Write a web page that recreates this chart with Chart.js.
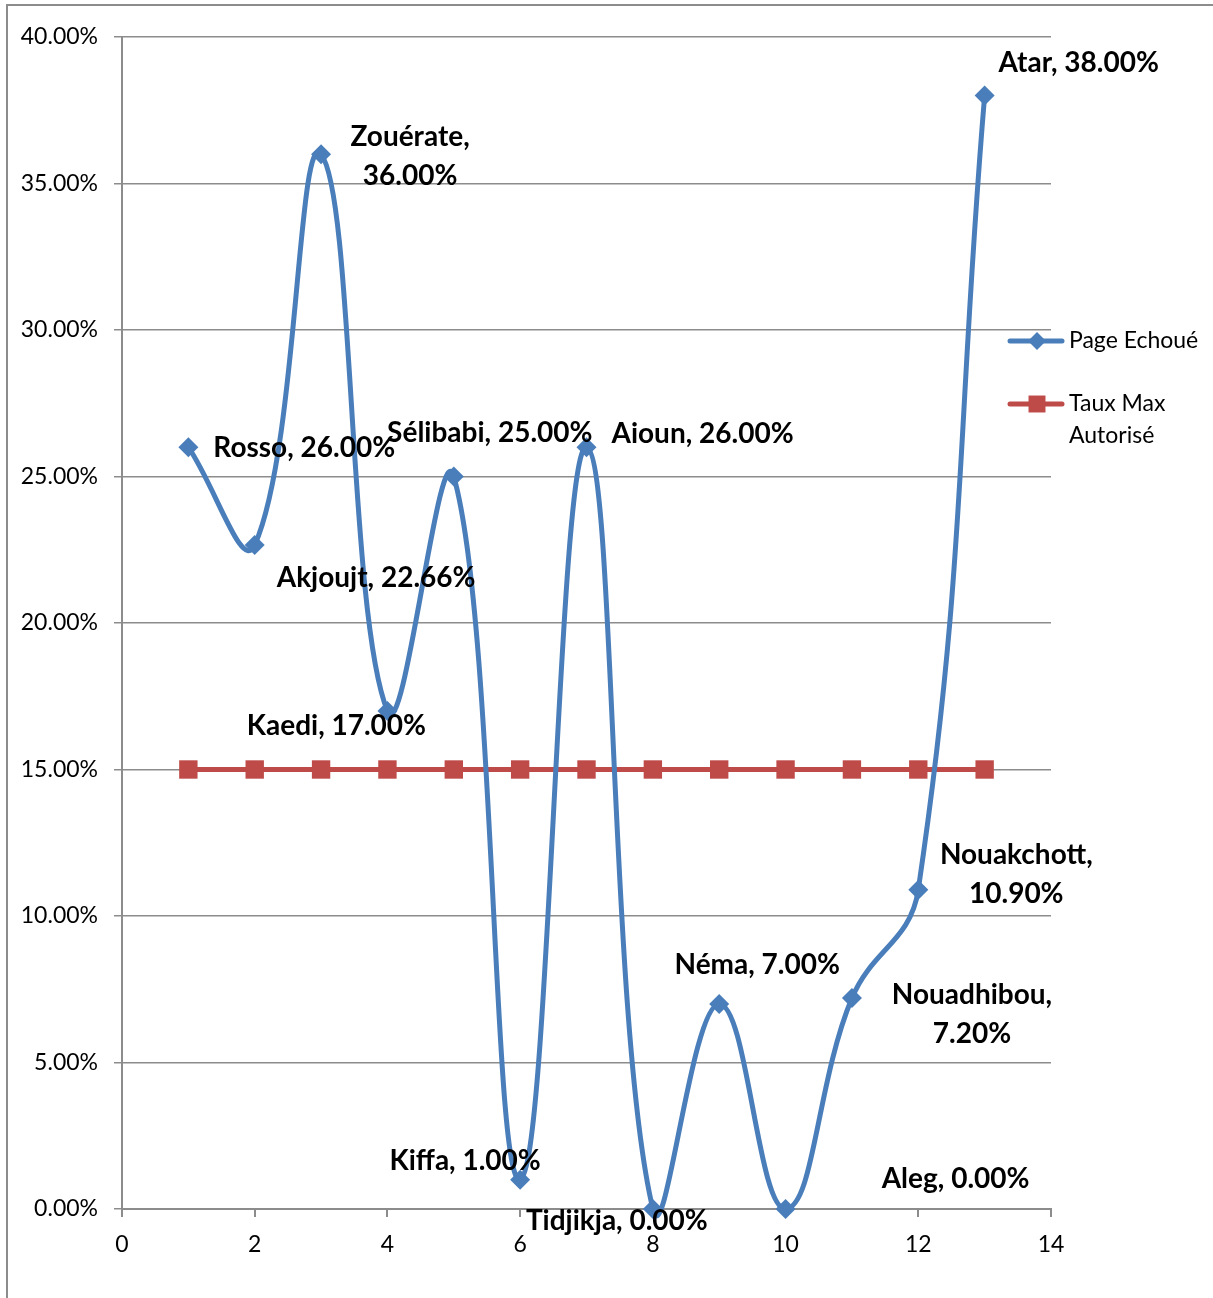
<!DOCTYPE html>
<html>
<head>
<meta charset="utf-8">
<script src="https://cdn.jsdelivr.net/npm/chart.js@4/dist/chart.umd.min.js"></script>
<style>
  html, body { margin: 0; padding: 0; background: #fff; }
  #frame { position: absolute; left: 6px; top: 4px; width: 1220px; height: 1310px; border-left: 2px solid #8c8c8c; border-top: 2px solid #8c8c8c; }
  #wrap { position: absolute; left: 0; top: 0; width: 1213px; height: 1298px; }
</style>
</head>
<body>
<div id="frame"></div>
<div id="wrap"><canvas id="myChart" width="1213" height="1298"></canvas></div>
<script>
// data
const cities = ['Rosso', 'Akjoujt', 'Zouérate', 'Kaedi', 'Sélibabi', 'Kiffa', 'Aioun',
                'Tidjikja', 'Néma', 'Aleg', 'Nouadhibou', 'Nouakchott', 'Atar'];
const xValues = [1, 2, 3, 4, 5, 6, 7, 8, 9, 10, 11, 12, 13];
const pageEchoue = [26, 22.66, 36, 17, 25, 1, 26, 0, 7, 0, 7.2, 10.9, 38];
const tauxMax = [15, 15, 15, 15, 15, 15, 15, 15, 15, 15, 15, 15, 15];
const yTicks = [0, 5, 10, 15, 20, 25, 30, 35, 40];
const xTicks = [0, 2, 4, 6, 8, 10, 12, 14];

// label placement: [dx, dy, align, twoLines]
const labelPos = [
    [25, 1, 'left', false],
    [22, 33, 'left', false],
    [89, 2, 'center', true],
    [-51, 15, 'center', false],
    [36, -44, 'center', false],
    [-55, -19, 'center', false],
    [25, -13, 'left', false],
    [-36, 12, 'center', false],
    [38, -39, 'center', false],
    [170, -30, 'center', false],
    [120, 16, 'center', true],
    [98, -16, 'center', true],
    [94, -33, 'center', false]
];

const BLUE = '#4a7ebb';
const RED = '#be4b48';
const LABEL_FONT = 'bold 28px Lato, "Open Sans", sans-serif';
const TEXT_FONT = '23px Lato, "Open Sans", sans-serif';

const dataLabels = {
    id: 'dataLabels',
    afterDatasetsDraw(chart) {
        const ctx = chart.ctx;
        const meta = chart.getDatasetMeta(0);
        ctx.save();
        ctx.font = LABEL_FONT;
        ctx.fillStyle = '#000';
        ctx.textBaseline = 'middle';
        meta.data.forEach((pt, i) => {
            const [dx, dy, align, two] = labelPos[i];
            const val = pageEchoue[i].toFixed(2) + '%';
            ctx.textAlign = align;
            const x = pt.x + dx, y = pt.y + dy;
            if (two) {
                ctx.fillText(cities[i] + ',', x, y - 19);
                ctx.fillText(val, x, y + 20);
            } else {
                ctx.fillText(cities[i] + ', ' + val, x, y);
            }
        });
        ctx.restore();
    }
};

const sideLegend = {
    id: 'sideLegend',
    afterDraw(chart) {
        const ctx = chart.ctx;
        const x0 = chart.chartArea.right - 41;
        const items = [
            { color: BLUE, style: 'rectRot', r: 9, y: 341, lines: ['Page Echoué'] },
            { color: RED, style: 'rect', r: 12, y: 404, lines: ['Taux Max', 'Autorisé'] }
        ];
        ctx.save();
        items.forEach(it => {
            ctx.strokeStyle = it.color;
            ctx.lineWidth = 5;
            ctx.lineCap = 'round';
            ctx.beginPath();
            ctx.moveTo(x0, it.y);
            ctx.lineTo(x0 + 52, it.y);
            ctx.stroke();
            ctx.fillStyle = it.color;
            Chart.helpers.drawPoint(ctx, { pointStyle: it.style, radius: it.r, borderWidth: 0 }, x0 + 27, it.y);
            ctx.fillStyle = '#000';
            ctx.font = TEXT_FONT;
            ctx.textAlign = 'left';
            ctx.textBaseline = 'middle';
            it.lines.forEach((t, k) => ctx.fillText(t, x0 + 59, it.y + k * 32));
        });
        ctx.restore();
    }
};

const ctx = document.getElementById('myChart').getContext('2d');
const myChart = new Chart(ctx, {
    type: 'line',
    data: {
        datasets: [{
            label: 'Page Echoué',
            data: xValues.map((x, i) => ({ x: x, y: pageEchoue[i] })),
            borderColor: BLUE,
            backgroundColor: BLUE,
            borderWidth: 5,
            tension: 0.42,
            pointStyle: 'rectRot',
            pointRadius: 10,
            pointBorderWidth: 0,
            clip: false,
            order: 1
        }, {
            label: 'Taux Max Autorisé',
            data: xValues.map((x, i) => ({ x: x, y: tauxMax[i] })),
            borderColor: RED,
            backgroundColor: RED,
            borderWidth: 5,
            tension: 0,
            pointStyle: 'rect',
            pointRadius: 13,
            pointBorderWidth: 0,
            order: 2
        }]
    },
    options: {
        responsive: false,
        animation: false,
        layout: { padding: { left: 0, top: 37, right: 162, bottom: 0 } },
        elements: { line: { capBezierPoints: false } },
        plugins: {
            legend: { display: false },
            tooltip: { enabled: false }
        },
        scales: {
            x: {
                type: 'linear',
                min: 0,
                max: 14,
                afterBuildTicks: axis => { axis.ticks = xTicks.map(v => ({ value: v })); },
                afterFit: axis => { axis.height = 89; },
                ticks: { color: '#000', font: { family: 'Lato, "Open Sans", sans-serif', size: 23 }, padding: 14, maxRotation: 0 },
                grid: { drawOnChartArea: false, drawTicks: true, tickLength: 8, color: '#8c8c8c', lineWidth: 2 },
                border: { color: '#8c8c8c', width: 2 }
            },
            y: {
                min: 0,
                max: 40,
                afterBuildTicks: axis => { axis.ticks = yTicks.map(v => ({ value: v })); },
                afterFit: axis => { axis.width = 122; },
                ticks: {
                    color: '#000',
                    font: { family: 'Lato, "Open Sans", sans-serif', size: 23 },
                    padding: 16,
                    callback: v => v.toFixed(2) + '%'
                },
                grid: { color: '#8c8c8c', lineWidth: 1.5, tickLength: 8 },
                border: { color: '#8c8c8c', width: 2 }
            }
        }
    },
    plugins: [dataLabels, sideLegend]
});
</script>
</body>
</html>
